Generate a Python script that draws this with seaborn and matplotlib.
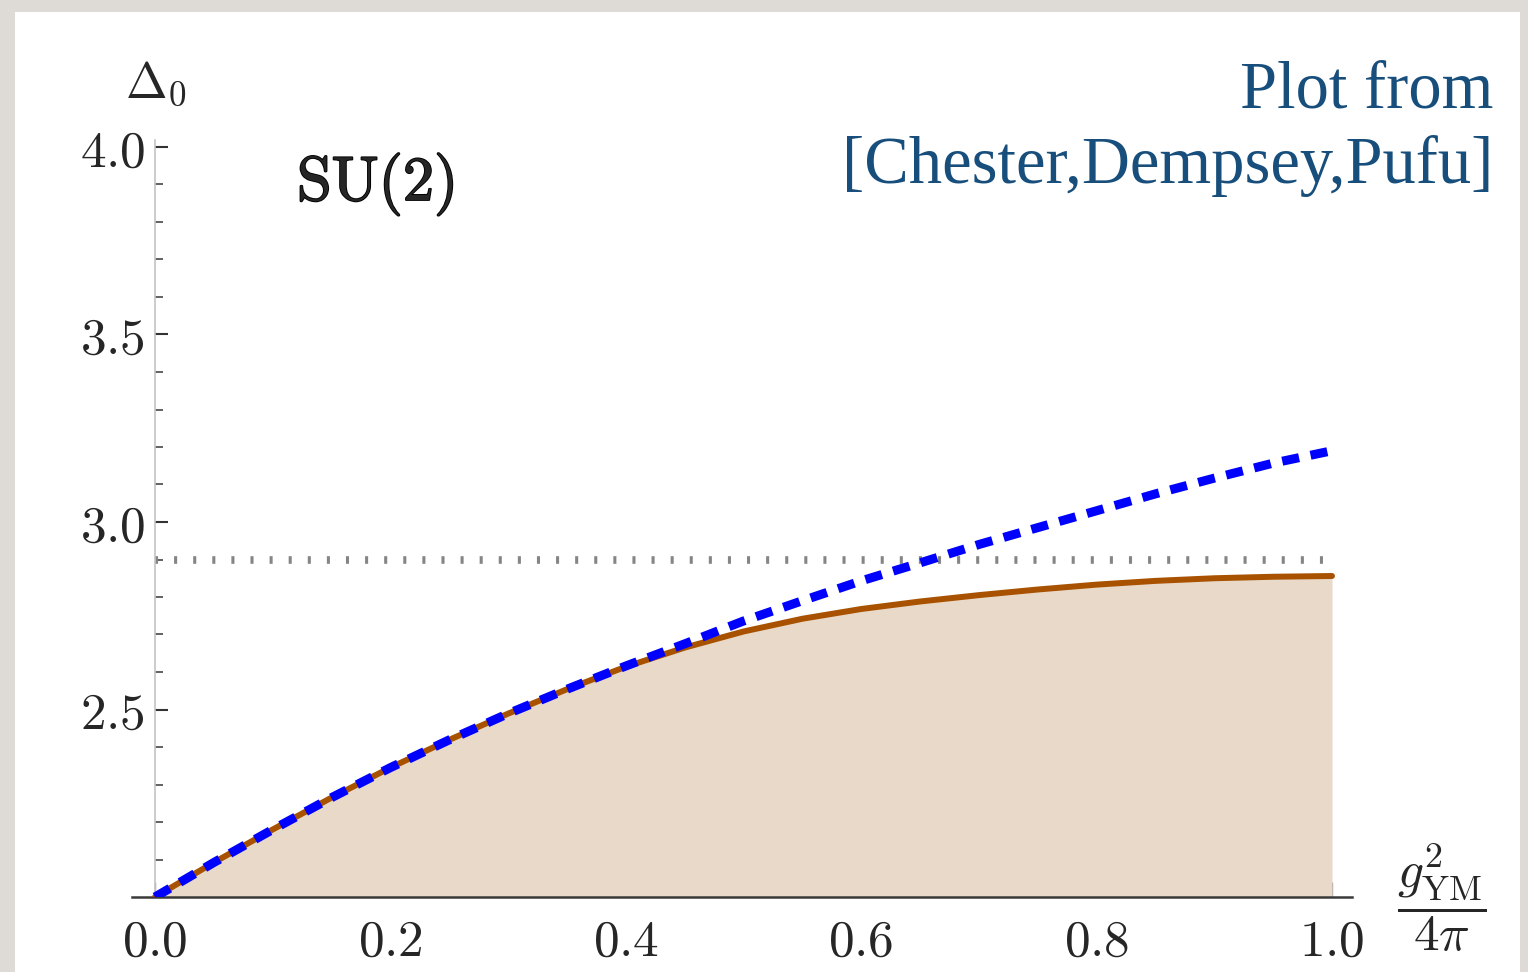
import numpy as np
import matplotlib
matplotlib.use("Agg")
import matplotlib.pyplot as plt
import matplotlib.patheffects as pe
from matplotlib.patches import Rectangle
from matplotlib.ticker import MultipleLocator, FixedLocator, FixedFormatter
import seaborn as sns

# coupling g^2_YM / 4pi on a regular grid
g_coupling = [0.00, 0.05, 0.10, 0.15, 0.20, 0.25, 0.30, 0.35, 0.40, 0.45, 0.50,
              0.55, 0.60, 0.65, 0.70, 0.75, 0.80, 0.85, 0.90, 0.95, 1.00]

# bootstrap bound (solid orange, shaded below)
delta_bound = [2.000, 2.092, 2.180, 2.265, 2.345, 2.419, 2.489, 2.554, 2.614, 2.665, 2.708,
               2.742, 2.768, 2.788, 2.805, 2.820, 2.833, 2.843, 2.850, 2.854, 2.856]

# weak-coupling estimate (blue dashed)
delta_pert = [2.000, 2.092, 2.180, 2.265, 2.345, 2.419, 2.489, 2.554, 2.616, 2.675, 2.736,
              2.790, 2.843, 2.891, 2.940, 2.985, 3.030, 3.075, 3.117, 3.157, 3.190]

# horizontal reference (dotted gray)
delta_ref = 2.9

x_major = [0.0, 0.2, 0.4, 0.6, 0.8, 1.0]
x_labels = ["0.0", "0.2", "0.4", "0.6", "0.8", "1.0"]
y_major = [2.5, 3.0, 3.5, 4.0]
y_labels = ["2.5", "3.0", "3.5", "4.0"]

W, H = 1528, 972
sns.set_style("white")
plt.rcParams["mathtext.fontset"] = "cm"

fig = plt.figure(figsize=(W / 100, H / 100), dpi=100)
fig.set_facecolor("#dedbd6")
fig.patches.append(Rectangle((15 / W, 0), (1520 - 15) / W, (H - 12) / H,
                             transform=fig.transFigure, facecolor="white",
                             edgecolor="none", zorder=-10))

def fx(px):
    return px / W

def fy(py):
    return 1 - py / H

ax = fig.add_axes([fx(132), fy(897), (1352 - 132) / W, (897 - 140) / H])
ax.set_facecolor("white")

ax.fill_between(g_coupling, 2.0, delta_bound, color="#e9d9c9", lw=0, zorder=1)
sns.lineplot(x=g_coupling, y=delta_bound, ax=ax, color="#a85200", lw=4.3, zorder=3)
sns.lineplot(x=g_coupling, y=delta_pert, ax=ax, color="#0000ff", lw=6.5, zorder=4)
ax.lines[-1].set_dashes([1.9, 1.3])
ax.lines[-1].set_dash_capstyle("butt")
ax.hlines(delta_ref, g_coupling[0], g_coupling[-1], color="#858585", lw=5.5,
          linestyles=[(0, (0.4, 2.1))], zorder=2)

ax.set_xlim(-23 / 1177, 1 + 20 / 1177)
ax.set_ylim(2.0, 2.0 + 757 / 375)

for s in ["top", "right"]:
    ax.spines[s].set_visible(False)
ax.spines["left"].set_position(("data", 0))
ax.spines["left"].set_color("#c4c4c4")
ax.spines["left"].set_linewidth(1.2)
ax.spines["bottom"].set_color("#3a3a3a")
ax.spines["bottom"].set_linewidth(1.8)

ax.xaxis.set_major_locator(FixedLocator(x_major))
ax.xaxis.set_major_formatter(FixedFormatter(["$" + t + "$" for t in x_labels]))
ax.xaxis.set_minor_locator(MultipleLocator(0.05))
ax.yaxis.set_major_locator(FixedLocator(y_major))
ax.yaxis.set_major_formatter(FixedFormatter(["$" + t + "$" for t in y_labels]))
ax.yaxis.set_minor_locator(MultipleLocator(0.1))

ax.tick_params(axis="both", which="both", direction="in", bottom=True, left=True)
ax.tick_params(axis="x", which="major", length=11, width=1, color="#999999",
               labelsize=37, pad=14)
ax.tick_params(axis="x", which="minor", length=6, width=1.5, color="#333333")
ax.tick_params(axis="y", which="major", length=9.5, width=1.5, color="#333333",
               labelsize=37, pad=7)
ax.tick_params(axis="y", which="minor", length=6, width=1.3, color="#555555")

fig.text(fx(125), fy(97), r"$\Delta_0$", fontsize=36, ha="left", va="baseline")
fig.text(fx(297), fy(200), r"$\mathrm{SU(2)}$", fontsize=45, ha="left", va="baseline",
         path_effects=[pe.withStroke(linewidth=1.3, foreground="black")])
fig.text(fx(1442), fy(898), r"$\dfrac{g^2_{\mathrm{YM}}}{4\pi}$", fontsize=37,
         ha="center", va="center")

fig.text(fx(1493), fy(107), "Plot from", family="Liberation Serif", fontsize=48,
         color="#174e7c", ha="right", va="baseline")
fig.text(fx(1493), fy(183), "[Chester,Dempsey,Pufu]", family="Liberation Serif",
         fontsize=48, color="#174e7c", ha="right", va="baseline")

fig.savefig("out.png", dpi=100, facecolor=fig.get_facecolor())
